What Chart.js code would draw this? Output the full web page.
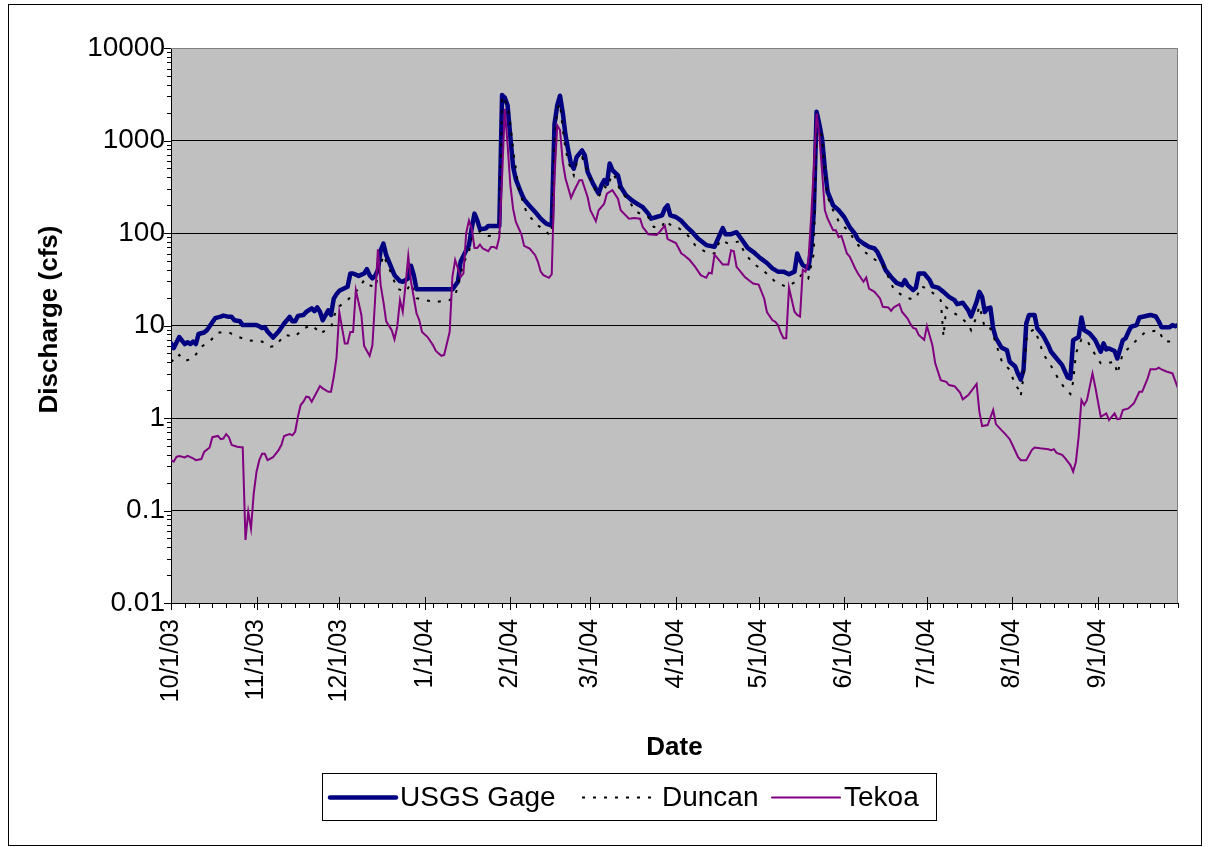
<!DOCTYPE html>
<html>
<head>
<meta charset="utf-8">
<title>Discharge</title>
<script src="https://cdn.jsdelivr.net/npm/chart.js@4.4.1/dist/chart.umd.min.js"></script>
<style>
  html, body { margin: 0; padding: 0; background: #fff; }
  #frame { position: absolute; left: 8px; top: 4px; width: 1192px; height: 840px; border: 1px solid #000; }
  canvas { display: block; }
</style>
</head>
<body>
<div id="frame"><canvas id="chart" width="1192" height="840"></canvas></div>
<script>
// days counted from 10/1/03, discharge in cfs
const monthDays = [0, 31, 61, 92, 123, 152, 183, 213, 244, 274, 305, 336];
const monthLabels = ['10/1/03', '11/1/03', '12/1/03', '1/1/04', '2/1/04', '3/1/04',
                     '4/1/04', '5/1/04', '6/1/04', '7/1/04', '8/1/04', '9/1/04'];
const yTicks = [0.01, 0.1, 1, 10, 100, 1000, 10000];
const yLabels = ['0.01', '0.1', '1', '10', '100', '1000', '10000'];

const gagePts = [
  [0, 6.4], [1, 5.7], [3, 7.5], [5, 6.3], [6, 6.6], [7, 6.3], [8, 6.7], [9, 6.3], [10, 8.1],
  [12, 8.4], [13, 8.9], [14, 9.8], [16, 12.0], [18, 12.5], [19, 12.8], [21, 12.4], [22, 12.4],
  [23, 11.4], [25, 11.1], [26, 10.1], [31, 10.1], [32, 9.8], [33, 9.4], [34, 9.6], [35, 8.6],
  [37, 7.4], [39, 8.6], [41, 10.5], [43, 12.4], [44, 11.1], [45, 11.1], [46, 12.7], [48, 13.0],
  [49, 14.0], [51, 15.3], [52, 14.3], [53, 15.7], [54, 14.1], [55, 11.4], [57, 14.6], [58, 13.0],
  [59, 19.5], [60, 21.8], [61, 23.7], [64, 26.2], [65, 36.5], [66, 36.5], [68, 34.4], [70, 36.5],
  [71, 40.6], [72, 35.0], [73, 32.3], [74, 34.4], [75, 39.8], [76, 65], [77, 77], [78, 57.5],
  [80, 41.4], [81, 35.0], [83, 30.2], [84, 29.7], [86, 32.3], [87, 44.2], [88, 35.0], [89, 24.6],
  [102, 24.6], [104, 29.7], [105, 49.3], [107, 65], [108, 73.7], [109, 112], [110, 162], [111, 137],
  [112, 110], [114, 112], [115, 119], [119, 119], [120, 3100], [121, 2900], [122, 2400], [123, 1100],
  [124, 520], [125, 380], [127, 267], [128, 230], [130, 196], [132, 169], [134, 143], [136, 126],
  [138, 120], [139, 1500], [140, 2400], [141, 3050], [142, 2000], [143, 1140], [144, 780], [145, 560],
  [146, 495], [147, 660], [149, 780], [150, 690], [151, 458], [153, 340], [155, 267], [156, 327],
  [157, 372], [158, 340], [159, 565], [160, 478], [162, 420], [163, 314], [165, 255], [167, 226],
  [169, 207], [171, 190], [173, 162], [174, 143], [176, 149], [178, 155], [179, 183], [180, 199],
  [181, 155], [183, 149], [185, 135], [187, 116], [189, 102], [191, 87], [194, 74], [197, 71],
  [199, 97], [200, 113], [201, 97], [203, 97], [205, 102], [207, 84], [209, 69], [211, 62.6],
  [213, 55.5], [214, 52.5], [216, 47.4], [218, 41.4], [220, 38.2], [222, 38.2], [224, 35.8],
  [226, 38.2], [227, 60], [228, 51], [229, 45], [231, 41.4], [232, 65], [233, 170], [234, 2050],
  [235, 1500], [236, 1040], [237, 495], [238, 278], [240, 199], [242, 176], [244, 149], [246, 116],
  [248, 97], [249, 85], [251, 77], [253, 70.7], [255, 68], [256, 62.6], [258, 47], [259, 39.8],
  [261, 33.5], [263, 28.9], [265, 27.3], [266, 30.9], [267, 27.3], [269, 24.1], [270, 25.7],
  [271, 36.5], [273, 36.5], [275, 30.9], [276, 26.6], [278, 25.7], [280, 23.1], [282, 20.4],
  [284, 18.8], [285, 17.0], [287, 17.6], [289, 14.6], [290, 12.5], [292, 18.0], [293, 23.1],
  [294, 20.4], [295, 14.0], [296, 15.3], [297, 15.6], [298, 9.3], [299, 7.3], [301, 5.8],
  [303, 5.4], [304, 4.05], [306, 3.6], [307, 3.0], [308, 2.6], [309, 3.3], [310, 10.5], [311, 13.0],
  [313, 13.0], [314, 9.3], [316, 7.9], [318, 6.1], [319, 5.2], [321, 4.4], [323, 3.73], [325, 2.75],
  [326, 2.68], [327, 6.95], [329, 7.5], [330, 12.2], [331, 8.9], [333, 8.2], [335, 6.95], [337, 5.2],
  [338, 6.4], [339, 5.5], [340, 5.65], [342, 5.3], [343, 4.4], [345, 6.95], [346, 7.25], [347, 8.5],
  [348, 9.7], [350, 10.1], [351, 12.2], [353, 12.6], [355, 13.0], [357, 12.5], [358, 11.1],
  [359, 9.6], [362, 9.6], [363, 10.1], [364, 9.8], [365, 10.1]
];

const duncanPts = [
  [0, 4.3], [1, 4.05], [3, 4.8], [5, 4.15], [8, 4.4], [11, 5.9], [14, 6.7], [17, 8.4], [21, 8.4],
  [24, 7.6], [28, 6.9], [33, 6.7], [36, 5.9], [38, 6.0], [41, 7.9], [45, 7.6], [48, 9.3], [51, 10.1],
  [53, 8.9], [54, 8.1], [57, 9.3], [58, 9.6], [60, 15.3], [64, 18.8], [68, 25], [70, 30.9],
  [72, 27.3], [74, 25.6], [76, 45], [77, 57.5], [79, 42], [82, 25], [85, 23.1], [87, 28.4],
  [89, 19.7], [92, 18.8], [96, 18.0], [101, 18.8], [103, 20.9], [106, 47], [108, 62.6], [109, 86],
  [112, 105], [115, 93], [118, 95], [119, 100], [120, 3000], [122, 2400], [123, 1500], [124, 800],
  [126, 303], [129, 162], [133, 121], [137, 97], [138, 97], [139, 900], [140, 2200], [141, 2500],
  [142, 1320], [143, 817], [144, 585], [146, 420], [147, 565], [149, 660], [151, 458], [153, 327],
  [155, 245], [157, 320], [158, 305], [160, 438], [161, 402], [163, 278], [166, 226], [168, 176],
  [170, 162], [173, 149], [175, 116], [178, 116], [179, 137], [182, 116], [184, 113], [187, 97],
  [190, 73.7], [194, 61.7], [197, 60], [199, 84], [202, 77], [206, 81], [208, 60], [211, 47],
  [215, 38.6], [219, 29.7], [223, 26.2], [226, 29.2], [229, 36.5], [231, 32.3], [233, 60],
  [234, 1460], [235, 1460], [236, 1040], [237, 438], [238, 245], [240, 176], [242, 134], [246, 102],
  [248, 80.5], [251, 64], [254, 54.5], [258, 45], [260, 33.5], [262, 24.5], [266, 20.2], [269, 19.1],
  [270, 19.7], [272, 26.6], [275, 24.1], [279, 18.8], [280, 7.6], [281, 15.7], [284, 13.5],
  [286, 12.4], [289, 10.3], [290, 8.9], [292, 12.5], [293, 16.2], [294, 12.5], [295, 9.3], [297, 9.3],
  [298, 7.9], [301, 4.2], [304, 3.3], [306, 2.3], [307, 2.09], [308, 1.73], [309, 2.8], [310, 7.0],
  [311, 8.5], [313, 9.1], [315, 6.4], [316, 5.0], [319, 3.65], [322, 2.53], [324, 2.09], [326, 1.82],
  [327, 2.46], [328, 5.0], [330, 7.1], [332, 6.95], [334, 5.4], [337, 3.9], [339, 3.9], [342, 4.05],
  [343, 3.0], [345, 5.0], [347, 5.65], [350, 6.95], [353, 8.4], [358, 8.9], [360, 6.7], [365, 6.7]
];

const tekoaPts = [
  [0, 0.35], [1, 0.337], [2, 0.38], [3, 0.389], [5, 0.375], [6, 0.389], [8, 0.367], [9, 0.35],
  [11, 0.36], [12, 0.43], [14, 0.48], [15, 0.62], [17, 0.64], [18, 0.59], [19, 0.60], [20, 0.67],
  [21, 0.62], [22, 0.51], [24, 0.49], [26, 0.48], [27, 0.048], [28, 0.097], [29, 0.064], [30, 0.154],
  [31, 0.263], [32, 0.35], [33, 0.41], [34, 0.41], [35, 0.35], [37, 0.377], [39, 0.45], [40, 0.51],
  [41, 0.64], [43, 0.67], [44, 0.65], [45, 0.71], [46, 1.03], [47, 1.38], [48, 1.5], [49, 1.7],
  [50, 1.68], [51, 1.5], [54, 2.21], [55, 2.09], [57, 1.92], [58, 1.92], [59, 2.79], [60, 4.5],
  [61, 14], [63, 6.4], [64, 6.4], [65, 8.5], [66, 8.5], [67, 24.1], [69, 13], [70, 6.0], [72, 4.7],
  [73, 6.1], [74, 19.6], [75, 66.5], [76, 27.3], [77, 18], [78, 11.1], [80, 8.9], [81, 7.1],
  [82, 9.7], [83, 18.8], [84, 14.1], [85, 27.3], [86, 56.5], [87, 29.7], [89, 13.5], [90, 11.4],
  [91, 8.5], [93, 7.5], [95, 6.1], [96, 5.3], [98, 4.7], [99, 4.8], [100, 6.4], [101, 8.5],
  [102, 33.5], [103, 51], [105, 33.5], [106, 36.5], [107, 100], [108, 137], [109, 112], [110, 69],
  [111, 69], [112, 75], [113, 68], [115, 63.5], [116, 70.7], [117, 70.7], [118, 68], [119, 90],
  [120, 390], [121, 2200], [122, 900], [123, 330], [124, 183], [125, 132], [127, 97], [128, 72.5],
  [130, 68], [132, 57.5], [133, 48.8], [134, 38.2], [135, 35], [137, 32.8], [138, 35.8], [139, 400],
  [140, 1460], [141, 1300], [142, 585], [143, 388], [145, 240], [146, 281], [148, 372], [149, 372],
  [151, 245], [152, 176], [154, 134], [155, 176], [157, 207], [158, 267], [160, 290], [162, 235],
  [163, 176], [166, 143], [168, 145], [170, 143], [171, 116], [173, 97], [176, 95], [177, 102],
  [179, 120], [180, 86], [183, 78], [185, 60], [186, 57.5], [188, 51], [190, 43], [192, 35],
  [194, 32.8], [195, 37.3], [196, 36.5], [197, 58.4], [200, 45.6], [202, 45.6], [203, 65],
  [204, 63.5], [205, 43], [208, 33.5], [211, 28.4], [213, 27.7], [215, 19.6], [216, 14], [218, 11.4],
  [219, 11], [220, 10.1], [221, 8.4], [222, 7.3], [223, 7.3], [224, 25.6], [226, 14.1], [227, 13],
  [228, 12.5], [229, 40], [230, 38.2], [231, 48.8], [232, 143], [233, 500], [234, 1960], [235, 1140],
  [236, 458], [237, 176], [238, 143], [240, 107], [241, 107], [242, 90], [243, 93], [245, 60],
  [246, 55.5], [248, 41.4], [249, 36.5], [251, 29.7], [252, 33], [253, 25], [255, 23.1], [257, 19.6],
  [258, 15.9], [260, 15.7], [261, 14.4], [262, 15.7], [264, 17], [265, 14], [267, 11.9], [268, 10.4],
  [269, 9.4], [270, 9.2], [271, 7.9], [273, 7.0], [274, 9.9], [276, 6.1], [277, 3.9], [279, 2.57],
  [281, 2.46], [282, 2.27], [284, 2.21], [286, 1.88], [287, 1.59], [289, 1.77], [292, 2.33],
  [293, 1.17], [294, 0.82], [296, 0.84], [298, 1.22], [299, 0.86], [301, 0.74], [302, 0.69],
  [304, 0.59], [305, 0.51], [307, 0.38], [308, 0.35], [310, 0.35], [312, 0.45], [313, 0.48],
  [315, 0.47], [318, 0.46], [319, 0.45], [320, 0.46], [321, 0.42], [323, 0.40], [324, 0.37],
  [326, 0.31], [327, 0.263], [328, 0.337], [329, 0.63], [330, 1.56], [331, 1.38], [332, 1.56],
  [334, 3.04], [335, 2.18], [337, 1.03], [339, 1.12], [340, 0.95], [342, 1.12], [343, 0.97],
  [344, 0.98], [345, 1.22], [347, 1.27], [349, 1.44], [351, 1.92], [352, 1.92], [354, 2.68],
  [355, 3.36], [357, 3.36], [358, 3.5], [359, 3.36], [361, 3.16], [363, 3.04], [365, 2.09]
];

const FONT = '"Liberation Sans", Arial, sans-serif';

function toXY(pts) {
    return pts.map(([d, v]) => ({ x: d, y: v }));
}

// legend slots: where each sample line and label starts, on the canvas
const legendSlots = [
    { line: 319, text: 391 },
    { line: 571, text: 653 },
    { line: 761, text: 835 }
];

// background, plot frame, tick marks, titles and legend
const chartDecor = {
    id: 'chartDecor',
    beforeDraw(chart) {
        const { ctx, chartArea: a } = chart;
        ctx.save();
        ctx.fillStyle = '#fff';
        ctx.fillRect(0, 0, chart.width, chart.height);
        ctx.fillStyle = '#c0c0c0';
        ctx.fillRect(a.left, a.top, a.right - a.left, a.bottom - a.top);
        ctx.restore();
    },
    afterDraw(chart) {
        const { ctx, chartArea: a } = chart;
        const x = chart.scales.x;
        const y = chart.scales.y;
        ctx.save();
        ctx.lineWidth = 1;

        ctx.strokeStyle = '#808080';
        ctx.beginPath();
        ctx.moveTo(a.left, a.top + 0.5);
        ctx.lineTo(a.right - 0.5, a.top + 0.5);
        ctx.lineTo(a.right - 0.5, a.bottom);
        ctx.stroke();

        ctx.strokeStyle = '#000';
        ctx.beginPath();
        for (let d = 0; d <= 365; d += 5) {
            const px = Math.round(x.getPixelForValue(d)) + 0.5;
            ctx.moveTo(px, a.bottom);
            ctx.lineTo(px, a.bottom + 5);
        }
        monthDays.forEach(d => {
            const px = Math.round(x.getPixelForValue(d)) + 0.5;
            ctx.moveTo(px, a.bottom - 6);
            ctx.lineTo(px, a.bottom + 7);
        });
        yTicks.forEach(v => {
            const py = Math.round(y.getPixelForValue(v)) + 0.5;
            ctx.moveTo(a.left - 7, py);
            ctx.lineTo(a.left, py);
            if (v < 10000) {
                for (let m = 2; m < 10; m++) {
                    const pm = Math.round(y.getPixelForValue(v * m)) + 0.5;
                    ctx.moveTo(a.left - 4, pm);
                    ctx.lineTo(a.left, pm);
                }
            }
        });
        ctx.stroke();

        // axis titles
        ctx.fillStyle = '#000';
        ctx.font = 'bold 26px ' + FONT;
        ctx.textAlign = 'center';
        ctx.textBaseline = 'middle';
        ctx.fillText('Date', (a.left + a.right) / 2, 743);
        ctx.save();
        ctx.translate(41, (a.top + a.bottom) / 2 - 6);
        ctx.rotate(-Math.PI / 2);
        ctx.fillText('Discharge (cfs)', 0, 0);
        ctx.restore();

        // legend
        const box = { left: 313, top: 768, right: 927, bottom: 815 };
        ctx.strokeStyle = '#000';
        ctx.strokeRect(box.left + 0.5, box.top + 0.5, box.right - box.left, box.bottom - box.top);
        ctx.font = '28px ' + FONT;
        ctx.textAlign = 'left';
        const cy = Math.round((box.top + box.bottom) / 2) + 0.5;
        chart.data.datasets.forEach((ds, i) => {
            const slot = legendSlots[i];
            ctx.save();
            ctx.strokeStyle = ds.borderColor;
            ctx.lineWidth = ds.borderWidth;
            ctx.lineCap = ds.borderDash ? 'butt' : 'round';
            ctx.setLineDash(ds.borderDash || []);
            ctx.beginPath();
            ctx.moveTo(slot.line + 2, cy);
            ctx.lineTo(slot.text - 4, cy);
            ctx.stroke();
            ctx.restore();
            ctx.fillText(ds.label, slot.text, cy + 1);
        });
        ctx.restore();
    }
};

new Chart(document.getElementById('chart'), {
    type: 'line',
    data: {
        datasets: [
            {
                label: 'USGS Gage', data: toXY(gagePts), order: 3,
                borderColor: '#000080', borderWidth: 4.5, borderJoinStyle: 'round', borderCapStyle: 'round',
                pointRadius: 0, tension: 0, fill: false
            },
            {
                label: 'Duncan', data: toXY(duncanPts), order: 2,
                borderColor: '#000000', borderWidth: 2, borderDash: [3, 8],
                pointRadius: 0, tension: 0, fill: false
            },
            {
                label: 'Tekoa', data: toXY(tekoaPts), order: 1,
                borderColor: '#800080', borderWidth: 2,
                pointRadius: 0, tension: 0, fill: false
            }
        ]
    },
    options: {
        responsive: false,
        animation: false,
        devicePixelRatio: 1,
        layout: { padding: { top: 43, right: 23, left: 0, bottom: 0 } },
        plugins: {
            legend: { display: false },
            tooltip: { enabled: false }
        },
        scales: {
            x: {
                type: 'linear',
                min: 0,
                max: 365,
                afterBuildTicks: scale => { scale.ticks = monthDays.map(v => ({ value: v })); },
                afterFit: scale => { scale.height = 242; },
                ticks: {
                    autoSkip: false,
                    maxRotation: 90,
                    minRotation: 90,
                    padding: 8,
                    color: '#000',
                    font: { family: FONT, size: 25 },
                    callback: v => {
                        const i = monthDays.indexOf(v);
                        return i >= 0 ? monthLabels[i] : '';
                    }
                },
                grid: { display: false },
                border: { display: true, color: '#000', width: 1 }
            },
            y: {
                type: 'logarithmic',
                min: 0.01,
                max: 10000,
                afterBuildTicks: scale => { scale.ticks = yTicks.map(v => ({ value: v })); },
                afterFit: scale => { scale.width = 162; },
                ticks: {
                    autoSkip: false,
                    padding: 6,
                    color: '#000',
                    font: { family: FONT, size: 28 },
                    callback: v => {
                        const i = yTicks.indexOf(v);
                        return i >= 0 ? yLabels[i] : '';
                    }
                },
                grid: {
                    drawTicks: false,
                    lineWidth: 1,
                    color: c => (c.tick && (c.tick.value === 10000 || c.tick.value === 0.01)) ? 'rgba(0,0,0,0)' : '#000'
                },
                border: { display: true, color: '#000', width: 1 }
            }
        }
    },
    plugins: [chartDecor]
});
</script>
</body>
</html>
